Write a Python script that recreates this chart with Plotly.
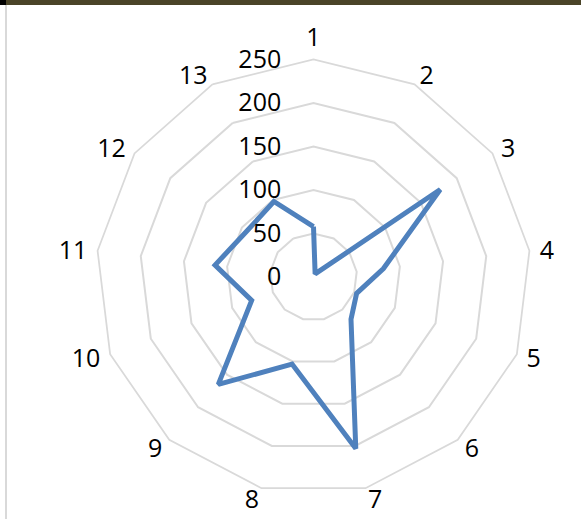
import plotly.graph_objects as go

categories = ["1", "2", "3", "4", "5", "6", "7", "8", "9", "10", "11", "12", "13"]
values = [58, 4, 177, 81, 53, 65, 203, 103, 165, 76, 114, 93, 98]
radial_ticks = [0, 50, 100, 150, 200, 250]

W, H = 581, 519
cx, cy, R = 313.5, 277, 217.5
RMAX = 250
LABEL_RMAX = 270   # overlay polar (same scale) that reaches beyond the chart for category labels
LABEL_R = 262      # radial position (data units) of the category label anchors
LABEL_DY = 3       # small vertical nudge of the label overlay (px)
R2 = R * LABEL_RMAX / RMAX

n = len(categories)
label_pos = []
for k in range(n):
    if k == 0:
        label_pos.append("top center")
    elif k <= n // 2:
        label_pos.append("middle right")
    else:
        label_pos.append("middle left")


def dom(rad, ccy):
    y0 = max(0.0, 1 - (ccy + rad) / H)
    y1 = min(1.0, 1 - (ccy - rad) / H)
    x0 = max(0.0, (cx - rad) / W)
    x1 = min(1.0, (cx + rad) / W)
    return dict(x=[x0, x1], y=[y0, y1])


fig = go.Figure()
fig.add_trace(go.Scatterpolar(
    r=values + values[:1],
    theta=categories + categories[:1],
    mode="lines",
    line=dict(color="#4F81BD", width=5),
    hoverinfo="skip",
    subplot="polar",
))
fig.add_trace(go.Scatterpolar(
    r=[LABEL_R] * n,
    theta=categories,
    text=categories,
    mode="text",
    textposition=label_pos,
    textfont=dict(family="Open Sans, Noto Sans, sans-serif", size=25, color="black"),
    cliponaxis=False,
    hoverinfo="skip",
    subplot="polar2",
))

fig.update_layout(
    width=W, height=H,
    margin=dict(l=0, r=0, t=0, b=0),
    paper_bgcolor="white",
    showlegend=False,
    font=dict(family="Open Sans, Noto Sans, sans-serif", size=25, color="black"),
    polar=dict(
        domain=dom(R, cy),
        bgcolor="white",
        gridshape="linear",
        radialaxis=dict(
            range=[0, RMAX], tickvals=radial_ticks, ticktext=[str(v) for v in radial_ticks],
            angle=90, tickangle=90, side="counterclockwise",
            showline=False, ticks="outside", ticklen=23, tickcolor="rgba(0,0,0,0)",
            gridcolor="#D9D9D9", gridwidth=1.75,
            tickfont=dict(size=25, color="black"),
        ),
        angularaxis=dict(
            rotation=90, direction="clockwise",
            showgrid=False, showline=True, linecolor="#D9D9D9", linewidth=1.75,
            ticks="", showticklabels=False,
        ),
    ),
    polar2=dict(
        domain=dom(R2, cy + LABEL_DY),
        bgcolor="rgba(0,0,0,0)",
        gridshape="linear",
        radialaxis=dict(range=[0, LABEL_RMAX], visible=False),
        angularaxis=dict(rotation=90, direction="clockwise", visible=False,
                         categoryorder="array", categoryarray=categories),
    ),
    shapes=[
        dict(type="rect", xref="paper", yref="paper", x0=0, x1=1, y0=1 - 5 / H, y1=1,
             fillcolor="#4a4428", line=dict(width=0), layer="above"),
        dict(type="rect", xref="paper", yref="paper", x0=0, x1=6 / W, y0=1 - 5 / H, y1=1,
             fillcolor="#000000", line=dict(width=0), layer="above"),
        dict(type="rect", xref="paper", yref="paper", x0=5 / W, x1=7 / W, y0=0, y1=1 - 5 / H,
             fillcolor="#D9D9D9", line=dict(width=0), layer="above"),
    ],
)

fig.write_html("out.html", config={"displayModeBar": False},
               post_script="document.body.style.margin='0';")
